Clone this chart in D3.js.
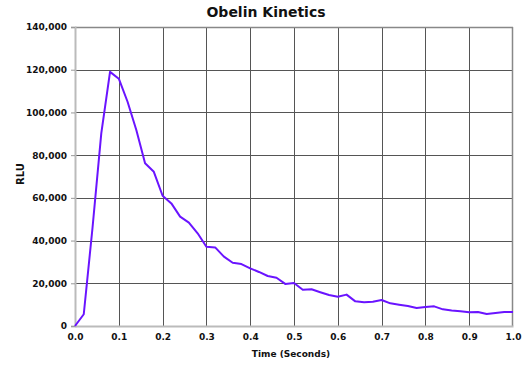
<!DOCTYPE html>
<html>
<head>
<meta charset="utf-8">
<script src="https://cdn.jsdelivr.net/npm/d3@7"></script>
<style>
  body { margin: 0; background: #fff; }
  text { font-family: "DejaVu Sans", sans-serif; font-weight: bold; fill: #111; }
</style>
</head>
<body>
<div id="chart"></div>
<script>
var times = d3.range(0, 51).map(function(i) { return +(i * 0.02).toFixed(2); });

var rlu = [0, 5500, 46000, 90200, 119000, 115800, 105000, 91800, 76200, 72200,
           61000, 57400, 51200, 48400, 43400, 37100, 36800, 32500, 29600, 29000,
           27000, 25300, 23400, 22600, 19700, 20100, 17000, 17200, 15800, 14500,
           13700, 14700, 11550, 11100, 11400, 12200, 10600, 10000, 9400, 8400,
           8900, 9200, 7800, 7300, 6900, 6400, 6600, 5600, 6100, 6600, 6600];

var xTicks = [0, 0.1, 0.2, 0.3, 0.4, 0.5, 0.6, 0.7, 0.8, 0.9, 1.0],
    yTicks = [0, 20000, 40000, 60000, 80000, 100000, 120000, 140000];

var margin = {top: 27, right: 17, bottom: 39, left: 75},
    width = 530 - margin.left - margin.right,
    height = 365 - margin.top - margin.bottom;

var x = d3.scaleLinear().domain([0, 1]).range([0, width]);
var y = d3.scaleLinear().domain([0, 140000]).range([height, 0]);

var svg = d3.select("#chart").append("svg")
    .attr("width", 530)
    .attr("height", 365)
  .append("g")
    .attr("transform", "translate(" + margin.left + "," + margin.top + ")");

// grid
svg.append("g").selectAll("line")
    .data(xTicks.slice(1, -1))
  .enter().append("line")
    .attr("x1", function(d) { return Math.round(x(d)) + 0.5; })
    .attr("x2", function(d) { return Math.round(x(d)) + 0.5; })
    .attr("y1", 0).attr("y2", height)
    .attr("stroke", "#555").attr("stroke-width", 1);

svg.append("g").selectAll("line")
    .data(yTicks.slice(1, -1))
  .enter().append("line")
    .attr("y1", function(d) { return Math.round(y(d)) + 0.5; })
    .attr("y2", function(d) { return Math.round(y(d)) + 0.5; })
    .attr("x1", 0).attr("x2", width)
    .attr("stroke", "#555").attr("stroke-width", 1);

// frame
svg.append("line").attr("x1", 0).attr("x2", width).attr("y1", 0.5).attr("y2", 0.5)
    .attr("stroke", "#888").attr("stroke-width", 1.5);
svg.append("line").attr("x1", width - 0.5).attr("x2", width - 0.5).attr("y1", 0).attr("y2", height)
    .attr("stroke", "#888").attr("stroke-width", 1.5);

// axes
var yAxis = svg.append("g")
    .call(d3.axisLeft(y).tickValues(yTicks).tickSize(4).tickPadding(4).tickFormat(d3.format(",")));
var xAxis = svg.append("g")
    .attr("transform", "translate(0," + height + ")")
    .call(d3.axisBottom(x).tickValues(xTicks).tickSize(0).tickPadding(8).tickFormat(d3.format(".1f")));

[yAxis, xAxis].forEach(function(a) {
  a.select(".domain").attr("stroke", "#bbb").attr("stroke-width", 2);
  a.selectAll(".tick line").attr("stroke", "#999");
  a.selectAll("text").style("font-size", "9px").attr("fill", "#111");
});

// line
var line = d3.line()
    .x(function(d, i) { return x(times[i]); })
    .y(function(d) { return y(d); });

svg.append("path")
    .datum(rlu)
    .attr("fill", "none")
    .attr("stroke", "#6a14ff")
    .attr("stroke-width", 2)
    .attr("stroke-linejoin", "round")
    .attr("d", line);

// titles
svg.append("text")
    .attr("x", 266 - margin.left).attr("y", -10)
    .attr("text-anchor", "middle")
    .style("font-size", "14px")
    .text("Obelin Kinetics");

svg.append("text")
    .attr("x", 291 - margin.left).attr("y", height + 31)
    .attr("text-anchor", "middle")
    .style("font-size", "9px")
    .text("Time (Seconds)");

svg.append("text")
    .attr("transform", "translate(" + (24 - margin.left) + "," + (174 - margin.top) + ") rotate(-90)")
    .attr("text-anchor", "middle")
    .style("font-size", "10px")
    .text("RLU");
</script>
</body>
</html>
